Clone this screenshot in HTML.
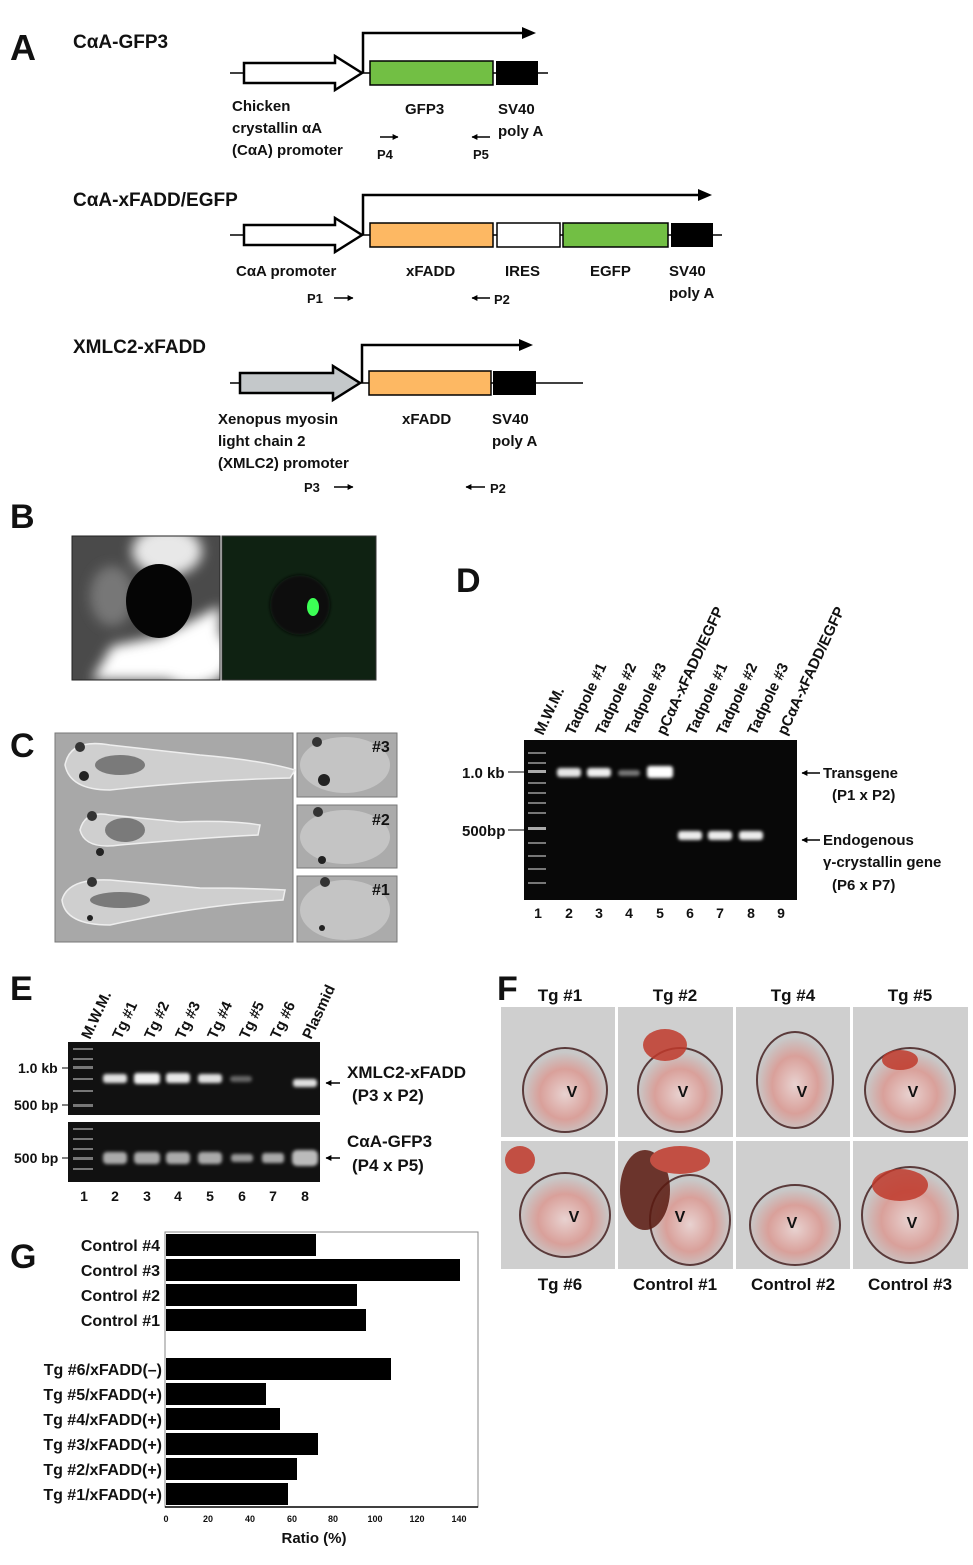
<!DOCTYPE html>
<html><head><meta charset="utf-8"><style>
html,body{margin:0;padding:0;background:#fff;}
svg{display:block;}
text{font-family:"Liberation Sans",sans-serif;font-weight:bold;fill:#111;}
</style></head><body>
<svg width="973" height="1565" viewBox="0 0 973 1565" xmlns="http://www.w3.org/2000/svg">
<defs>
<marker id="ah" viewBox="0 0 10 10" refX="9" refY="5" markerWidth="4" markerHeight="4" orient="auto"><path d="M0,0L10,5L0,10z" fill="#000"/></marker>
<radialGradient id="heart" cx="0.5" cy="0.55" r="0.5"><stop offset="0" stop-color="#e8d2d0"/><stop offset="0.6" stop-color="#d9a09a"/><stop offset="1" stop-color="#c8c8c8"/></radialGradient>
<filter id="blur"><feGaussianBlur stdDeviation="1.5"/></filter>
<filter id="blur6"><feGaussianBlur stdDeviation="6"/></filter>
</defs>

<!-- A -->
<text x="10" y="60" font-size="36">A</text>
<text x="73" y="48" font-size="19">CαA-GFP3</text>
<line x1="230" y1="73" x2="548" y2="73" stroke="#000" stroke-width="1.5"/>
<path d="M244,63H335V56L362,73L335,90V83H244Z" fill="#fff" stroke="#000" stroke-width="2.5"/>
<rect x="370" y="61" width="123" height="24" fill="#72bf44" stroke="#000" stroke-width="1.5"/>
<rect x="496" y="61" width="42" height="24" fill="#000"/>
<path d="M363,73V33H530" fill="none" stroke="#000" stroke-width="2.5"/>
<path d="M522,27L536,33L522,39z" fill="#000"/>
<text x="232" y="111" font-size="15">Chicken</text>
<text x="232" y="133" font-size="15">crystallin αA</text>
<text x="232" y="155" font-size="15">(CαA) promoter</text>
<text x="405" y="114" font-size="15">GFP3</text>
<text x="498" y="114" font-size="15">SV40</text>
<text x="498" y="136" font-size="15">poly A</text>
<line x1="380" y1="137" x2="398" y2="137" stroke="#000" stroke-width="1.5" marker-end="url(#ah)"/>
<text x="377" y="159" font-size="13">P4</text>
<line x1="490" y1="137" x2="472" y2="137" stroke="#000" stroke-width="1.5" marker-end="url(#ah)"/>
<text x="473" y="159" font-size="13">P5</text>

<text x="73" y="206" font-size="19">CαA-xFADD/EGFP</text>
<line x1="230" y1="235" x2="722" y2="235" stroke="#000" stroke-width="1.5"/>
<path d="M244,225H335V218L362,235L335,252V245H244Z" fill="#fff" stroke="#000" stroke-width="2.5"/>
<rect x="370" y="223" width="123" height="24" fill="#fdb863" stroke="#000" stroke-width="1.5"/>
<rect x="497" y="223" width="63" height="24" fill="#fff" stroke="#000" stroke-width="1.5"/>
<rect x="563" y="223" width="105" height="24" fill="#72bf44" stroke="#000" stroke-width="1.5"/>
<rect x="671" y="223" width="42" height="24" fill="#000"/>
<path d="M363,235V195H705" fill="none" stroke="#000" stroke-width="2.5"/>
<path d="M698,189L712,195L698,201z" fill="#000"/>
<text x="236" y="276" font-size="15">CαA promoter</text>
<text x="406" y="276" font-size="15">xFADD</text>
<text x="505" y="276" font-size="15">IRES</text>
<text x="590" y="276" font-size="15">EGFP</text>
<text x="669" y="276" font-size="15">SV40</text>
<text x="669" y="298" font-size="15">poly A</text>
<text x="307" y="303" font-size="13">P1</text>
<line x1="334" y1="298" x2="353" y2="298" stroke="#000" stroke-width="1.5" marker-end="url(#ah)"/>
<line x1="490" y1="298" x2="472" y2="298" stroke="#000" stroke-width="1.5" marker-end="url(#ah)"/>
<text x="494" y="304" font-size="13">P2</text>

<text x="73" y="353" font-size="19">XMLC2-xFADD</text>
<line x1="230" y1="383" x2="583" y2="383" stroke="#000" stroke-width="1.5"/>
<path d="M240,373H333V366L360,383L333,400V393H240Z" fill="#c4c8ca" stroke="#000" stroke-width="2.5"/>
<rect x="369" y="371" width="122" height="24" fill="#fdb863" stroke="#000" stroke-width="1.5"/>
<rect x="493" y="371" width="43" height="24" fill="#000"/>
<path d="M362,383V345H526" fill="none" stroke="#000" stroke-width="2.5"/>
<path d="M519,339L533,345L519,351z" fill="#000"/>
<text x="218" y="424" font-size="15">Xenopus myosin</text>
<text x="218" y="446" font-size="15">light chain 2</text>
<text x="218" y="468" font-size="15">(XMLC2) promoter</text>
<text x="402" y="424" font-size="15">xFADD</text>
<text x="492" y="424" font-size="15">SV40</text>
<text x="492" y="446" font-size="15">poly A</text>
<text x="304" y="492" font-size="13">P3</text>
<line x1="334" y1="487" x2="353" y2="487" stroke="#000" stroke-width="1.5" marker-end="url(#ah)"/>
<line x1="485" y1="487" x2="466" y2="487" stroke="#000" stroke-width="1.5" marker-end="url(#ah)"/>
<text x="490" y="493" font-size="13">P2</text>

<!-- B -->
<text x="10" y="528" font-size="34">B</text>
<svg x="72" y="536" width="148" height="144">
<rect width="148" height="144" fill="#4a4a4a"/>
<g filter="url(#blur6)">
<ellipse cx="95" cy="15" rx="35" ry="25" fill="#e8e8e8"/>
<path d="M20,144L40,110L90,100L148,70V144Z" fill="#fff"/>
<ellipse cx="120" cy="120" rx="40" ry="30" fill="#fff"/>
<ellipse cx="40" cy="60" rx="22" ry="30" fill="#777"/>
</g>
<ellipse cx="87" cy="65" rx="33" ry="37" fill="#050505"/>
</svg>
<rect x="72" y="536" width="148" height="144" fill="none" stroke="#222"/>
<rect x="222" y="536" width="154" height="144" fill="#0f2212" stroke="#333"/>
<ellipse cx="300" cy="605" rx="30" ry="30" fill="#071008" filter="url(#blur)"/>
<ellipse cx="313" cy="607" rx="6" ry="9" fill="#3cff55"/>

<!-- C -->
<text x="10" y="757" font-size="34">C</text>
<rect x="55" y="733" width="238" height="209" fill="#a8a8a8" stroke="#777"/>
<g fill="#cfcfcf" stroke="#eee" stroke-width="1.5">
<path d="M65,765Q70,738 110,745L200,755Q260,760 295,770L290,778Q200,780 110,790Q70,790 65,765Z"/>
<path d="M80,830Q85,810 110,815L180,822Q230,820 260,825L258,835Q200,838 120,845Q85,850 80,830Z"/>
<path d="M62,900Q68,878 110,880L200,888Q250,888 285,890L283,900Q200,905 110,925Q65,925 62,900Z"/>
</g>
<g fill="#7a7a7a"><ellipse cx="120" cy="765" rx="25" ry="10"/><ellipse cx="125" cy="830" rx="20" ry="12"/><ellipse cx="120" cy="900" rx="30" ry="8"/></g>
<circle cx="80" cy="747" r="5" fill="#333"/><circle cx="84" cy="776" r="5" fill="#222"/>
<circle cx="92" cy="816" r="5" fill="#333"/><circle cx="100" cy="852" r="4" fill="#222"/>
<circle cx="92" cy="882" r="5" fill="#333"/><circle cx="90" cy="918" r="3" fill="#222"/>
<rect x="297" y="733" width="100" height="64" fill="#ababab" stroke="#777"/>
<rect x="297" y="805" width="100" height="63" fill="#ababab" stroke="#777"/>
<rect x="297" y="876" width="100" height="66" fill="#ababab" stroke="#777"/>
<g fill="#c4c4c4"><ellipse cx="345" cy="765" rx="45" ry="28"/><ellipse cx="345" cy="837" rx="45" ry="27"/><ellipse cx="345" cy="910" rx="45" ry="30"/></g>
<circle cx="317" cy="742" r="5" fill="#333"/><circle cx="324" cy="780" r="6" fill="#222"/>
<circle cx="318" cy="812" r="5" fill="#333"/><circle cx="322" cy="860" r="4" fill="#222"/>
<circle cx="325" cy="882" r="5" fill="#333"/><circle cx="322" cy="928" r="3" fill="#222"/>
<text x="372" y="752" font-size="16" fill="#222">#3</text>
<text x="372" y="825" font-size="16" fill="#222">#2</text>
<text x="372" y="895" font-size="16" fill="#222">#1</text>

<!-- D -->
<text x="456" y="592" font-size="34">D</text>
<rect x="524" y="740" width="273" height="160" fill="#080808"/>
<g fill="#777">
<rect x="528" y="752" width="18" height="2"/><rect x="528" y="762" width="18" height="2"/><rect x="528" y="770" width="18" height="3" fill="#aaa"/><rect x="528" y="782" width="18" height="2"/><rect x="528" y="792" width="18" height="2"/><rect x="528" y="802" width="18" height="2"/><rect x="528" y="812" width="18" height="2"/><rect x="528" y="827" width="18" height="3" fill="#aaa"/><rect x="528" y="842" width="18" height="2"/><rect x="528" y="855" width="18" height="2"/><rect x="528" y="868" width="18" height="2"/><rect x="528" y="882" width="18" height="2"/>
</g>
<g filter="url(#blur)">
<rect x="557" y="768" width="24" height="9" rx="3" fill="#e6e6e6"/>
<rect x="587" y="768" width="24" height="9" rx="3" fill="#f0f0f0"/>
<rect x="618" y="770" width="22" height="6" rx="3" fill="#777"/>
<rect x="647" y="766" width="26" height="12" rx="3" fill="#fff"/>
<rect x="678" y="831" width="24" height="9" rx="3" fill="#ececec"/>
<rect x="708" y="831" width="24" height="9" rx="3" fill="#ececec"/>
<rect x="739" y="831" width="24" height="9" rx="3" fill="#ececec"/>
</g>
<g font-size="15">
<text transform="translate(543,736) rotate(-65)">M.W.M.</text>
<text transform="translate(574,736) rotate(-65)">Tadpole #1</text>
<text transform="translate(604,736) rotate(-65)">Tadpole #2</text>
<text transform="translate(634,736) rotate(-65)">Tadpole #3</text>
<text transform="translate(665,736) rotate(-65)">pCαA-xFADD/EGFP</text>
<text transform="translate(695,736) rotate(-65)">Tadpole #1</text>
<text transform="translate(725,736) rotate(-65)">Tadpole #2</text>
<text transform="translate(756,736) rotate(-65)">Tadpole #3</text>
<text transform="translate(786,736) rotate(-65)">pCαA-xFADD/EGFP</text>
</g>
<text x="462" y="778" font-size="15">1.0 kb</text>
<line x1="508" y1="772" x2="524" y2="772" stroke="#000"/>
<text x="462" y="836" font-size="15">500bp</text>
<line x1="508" y1="830" x2="524" y2="830" stroke="#000"/>
<g font-size="14" text-anchor="middle">
<text x="538" y="918">1</text><text x="569" y="918">2</text><text x="599" y="918">3</text><text x="629" y="918">4</text><text x="660" y="918">5</text><text x="690" y="918">6</text><text x="720" y="918">7</text><text x="751" y="918">8</text><text x="781" y="918">9</text>
</g>
<line x1="820" y1="773" x2="802" y2="773" stroke="#000" stroke-width="1.5" marker-end="url(#ah)"/>
<text x="823" y="778" font-size="15">Transgene</text>
<text x="832" y="800" font-size="15">(P1 x P2)</text>
<line x1="820" y1="840" x2="802" y2="840" stroke="#000" stroke-width="1.5" marker-end="url(#ah)"/>
<text x="823" y="845" font-size="15">Endogenous</text>
<text x="823" y="867" font-size="15">γ-crystallin gene</text>
<text x="832" y="890" font-size="15">(P6 x P7)</text>

<!-- E -->
<text x="10" y="1000" font-size="34">E</text>
<g font-size="15">
<text transform="translate(90,1040) rotate(-65)">M.W.M.</text>
<text transform="translate(121,1040) rotate(-65)">Tg #1</text>
<text transform="translate(153,1040) rotate(-65)">Tg #2</text>
<text transform="translate(184,1040) rotate(-65)">Tg #3</text>
<text transform="translate(216,1040) rotate(-65)">Tg #4</text>
<text transform="translate(248,1040) rotate(-65)">Tg #5</text>
<text transform="translate(279,1040) rotate(-65)">Tg #6</text>
<text transform="translate(311,1040) rotate(-65)">Plasmid</text>
</g>
<rect x="68" y="1042" width="252" height="73" fill="#111"/>
<rect x="68" y="1122" width="252" height="60" fill="#111"/>
<g fill="#777"><rect x="73" y="1048" width="20" height="2"/><rect x="73" y="1058" width="20" height="2"/><rect x="73" y="1066" width="20" height="3"/><rect x="73" y="1078" width="20" height="2"/><rect x="73" y="1090" width="20" height="2"/><rect x="73" y="1104" width="20" height="3"/>
<rect x="73" y="1128" width="20" height="2"/><rect x="73" y="1138" width="20" height="2"/><rect x="73" y="1148" width="20" height="2"/><rect x="73" y="1157" width="20" height="3"/><rect x="73" y="1168" width="20" height="2"/></g>
<g filter="url(#blur)">
<rect x="103" y="1074" width="24" height="9" rx="3" fill="#e0e0e0"/>
<rect x="134" y="1073" width="26" height="11" rx="3" fill="#f2f2f2"/>
<rect x="166" y="1073" width="24" height="10" rx="3" fill="#e8e8e8"/>
<rect x="198" y="1074" width="24" height="9" rx="3" fill="#e0e0e0"/>
<rect x="230" y="1076" width="22" height="6" rx="3" fill="#666"/>
<rect x="293" y="1079" width="24" height="8" rx="3" fill="#e0e0e0"/>
<rect x="103" y="1152" width="24" height="12" rx="4" fill="#aaa"/>
<rect x="134" y="1152" width="26" height="12" rx="4" fill="#aaa"/>
<rect x="166" y="1152" width="24" height="12" rx="4" fill="#aaa"/>
<rect x="198" y="1152" width="24" height="12" rx="4" fill="#aaa"/>
<rect x="231" y="1154" width="22" height="8" rx="3" fill="#999"/>
<rect x="262" y="1153" width="22" height="10" rx="3" fill="#aaa"/>
<rect x="292" y="1150" width="26" height="16" rx="5" fill="#bbb"/>
</g>
<text x="18" y="1073" font-size="14">1.0 kb</text><line x1="62" y1="1068" x2="68" y2="1068" stroke="#000"/>
<text x="14" y="1110" font-size="14">500 bp</text><line x1="62" y1="1105" x2="68" y2="1105" stroke="#000"/>
<text x="14" y="1163" font-size="14">500 bp</text><line x1="62" y1="1158" x2="68" y2="1158" stroke="#000"/>
<g font-size="14" text-anchor="middle">
<text x="84" y="1201">1</text><text x="115" y="1201">2</text><text x="147" y="1201">3</text><text x="178" y="1201">4</text><text x="210" y="1201">5</text><text x="242" y="1201">6</text><text x="273" y="1201">7</text><text x="305" y="1201">8</text>
</g>
<line x1="340" y1="1083" x2="326" y2="1083" stroke="#000" stroke-width="1.5" marker-end="url(#ah)"/>
<text x="347" y="1078" font-size="17">XMLC2-xFADD</text>
<text x="352" y="1101" font-size="17">(P3 x P2)</text>
<line x1="340" y1="1158" x2="326" y2="1158" stroke="#000" stroke-width="1.5" marker-end="url(#ah)"/>
<text x="347" y="1147" font-size="17">CαA-GFP3</text>
<text x="352" y="1171" font-size="17">(P4 x P5)</text>

<!-- F -->
<text x="497" y="1000" font-size="34">F</text>
<g font-size="17" text-anchor="middle">
<text x="560" y="1001">Tg #1</text><text x="675" y="1001">Tg #2</text><text x="793" y="1001">Tg #4</text><text x="910" y="1001">Tg #5</text>
<text x="560" y="1290">Tg #6</text><text x="675" y="1290">Control #1</text><text x="793" y="1290">Control #2</text><text x="910" y="1290">Control #3</text>
</g>
<g stroke="#fff" stroke-width="2">
<rect x="500" y="1006" width="116" height="132" fill="#cfcfcf"/>
<rect x="617" y="1006" width="117" height="132" fill="#cfcfcf"/>
<rect x="735" y="1006" width="116" height="132" fill="#cfcfcf"/>
<rect x="852" y="1006" width="117" height="132" fill="#cfcfcf"/>
<rect x="500" y="1140" width="116" height="130" fill="#cfcfcf"/>
<rect x="617" y="1140" width="117" height="130" fill="#cfcfcf"/>
<rect x="735" y="1140" width="116" height="130" fill="#cfcfcf"/>
<rect x="852" y="1140" width="117" height="130" fill="#cfcfcf"/>
</g>
<g fill="url(#heart)" stroke="#5a3a3a" stroke-width="2">
<ellipse cx="565" cy="1090" rx="42" ry="42"/>
<ellipse cx="680" cy="1090" rx="42" ry="42"/>
<ellipse cx="795" cy="1080" rx="38" ry="48"/>
<ellipse cx="910" cy="1090" rx="45" ry="42"/>
<ellipse cx="565" cy="1215" rx="45" ry="42"/>
<ellipse cx="690" cy="1220" rx="40" ry="45"/>
<ellipse cx="795" cy="1225" rx="45" ry="40"/>
<ellipse cx="910" cy="1215" rx="48" ry="48"/>
</g>
<g fill="#c0392b" opacity="0.85">
<ellipse cx="665" cy="1045" rx="22" ry="16"/>
<ellipse cx="645" cy="1190" rx="25" ry="40" fill="#5a1a10"/>
<ellipse cx="680" cy="1160" rx="30" ry="14"/>
<ellipse cx="900" cy="1185" rx="28" ry="16"/>
<ellipse cx="520" cy="1160" rx="15" ry="14"/>
<ellipse cx="900" cy="1060" rx="18" ry="10"/>
</g>
<g font-size="16" text-anchor="middle">
<text x="572" y="1097">V</text><text x="683" y="1097">V</text><text x="802" y="1097">V</text><text x="913" y="1097">V</text>
<text x="574" y="1222">V</text><text x="680" y="1222">V</text><text x="792" y="1228">V</text><text x="912" y="1228">V</text>
</g>

<!-- G -->
<text x="10" y="1268" font-size="34">G</text>
<rect x="165" y="1232" width="313" height="275" fill="#fff" stroke="#888"/>
<g fill="#000">
<rect x="166" y="1234" width="150" height="22"/>
<rect x="166" y="1259" width="294" height="22"/>
<rect x="166" y="1284" width="191" height="22"/>
<rect x="166" y="1309" width="200" height="22"/>
<rect x="166" y="1358" width="225" height="22"/>
<rect x="166" y="1383" width="100" height="22"/>
<rect x="166" y="1408" width="114" height="22"/>
<rect x="166" y="1433" width="152" height="22"/>
<rect x="166" y="1458" width="131" height="22"/>
<rect x="166" y="1483" width="122" height="22"/>
</g>
<g font-size="16" text-anchor="end">
<text x="160" y="1251">Control #4</text>
<text x="160" y="1276">Control #3</text>
<text x="160" y="1301">Control #2</text>
<text x="160" y="1326">Control #1</text>
<text x="162" y="1375">Tg #6/xFADD(–)</text>
<text x="162" y="1400">Tg #5/xFADD(+)</text>
<text x="162" y="1425">Tg #4/xFADD(+)</text>
<text x="162" y="1450">Tg #3/xFADD(+)</text>
<text x="162" y="1475">Tg #2/xFADD(+)</text>
<text x="162" y="1500">Tg #1/xFADD(+)</text>
</g>
<line x1="165" y1="1507" x2="478" y2="1507" stroke="#000" stroke-width="1.5"/>
<g font-size="9" text-anchor="middle">
<text x="166" y="1522">0</text><text x="208" y="1522">20</text><text x="250" y="1522">40</text><text x="292" y="1522">60</text><text x="333" y="1522">80</text><text x="375" y="1522">100</text><text x="417" y="1522">120</text><text x="459" y="1522">140</text>
</g>
<text x="314" y="1543" font-size="15" text-anchor="middle">Ratio (%)</text>
</svg>
</body></html>
